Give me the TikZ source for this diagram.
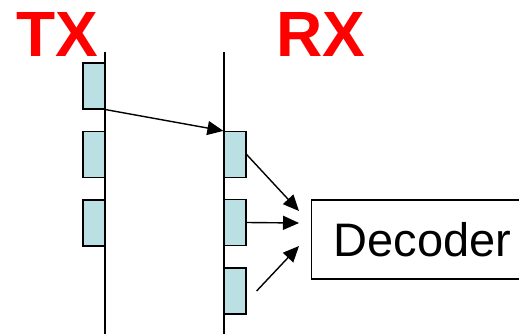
\documentclass[tikz,border=0pt]{standalone}
\usepackage{fontspec}
\setmainfont{Liberation Sans}
\usetikzlibrary{arrows.meta,positioning}
\definecolor{slotblue}{RGB}{186,224,227}

\begin{document}
\begin{tikzpicture}[x=1pt,y=-1pt,>={Triangle[length=16pt,width=14pt]},line width=1.4pt,slot/.style={draw,fill=slotblue,line width=1.2pt,minimum width=22pt,minimum height=46pt,inner sep=0pt},label/.style={text=red,font=\bfseries\fontsize{64}{64}\selectfont,inner sep=0pt},dec/.style={draw,line width=1.2pt,anchor=west,text width=238pt,align=left,inner xsep=22pt,inner ysep=0pt,minimum height=79pt,font=\fontsize{47}{47}\selectfont}]
\useasboundingbox (0,0) rectangle (519,334);
\clip (0,0) rectangle (519,334);
\node[label] (tx) at (57,34) {TX};
\node[label] (rx) at (321,34) {RX};
\coordinate (txtop) at (105,52); \coordinate (txbot) at (105,334);
\coordinate (rxtop) at (224,52); \coordinate (rxbot) at (224,334);
\draw (txtop)--(txbot);
\draw (rxtop)--(rxbot);
\node[slot] (tx1) at (94,86) {};
\node[slot] (tx2) at (94,154.5) {};
\node[slot] (tx3) at (94,223) {};
\node[slot] (rx1) at (235,154.5) {};
\node[slot] (rx2) at (235,222.5) {};
\node[slot] (rx3) at (235,291) {};
\node[dec] (decoder) at (311,239.5) {Decoder};
\coordinate (in1) at (299,211); \coordinate (in2) at (299,223); \coordinate (in3) at (299,246);
\draw[->] (tx1.south east)--(rx1.north west);
\foreach \a/\b in {rx1.east/in1,rx2.east/in2}{\draw[->] (\a)--(\b);}
\draw[->] ([xshift=10pt]rx3.east)--(in3);
\end{tikzpicture}
\end{document}
